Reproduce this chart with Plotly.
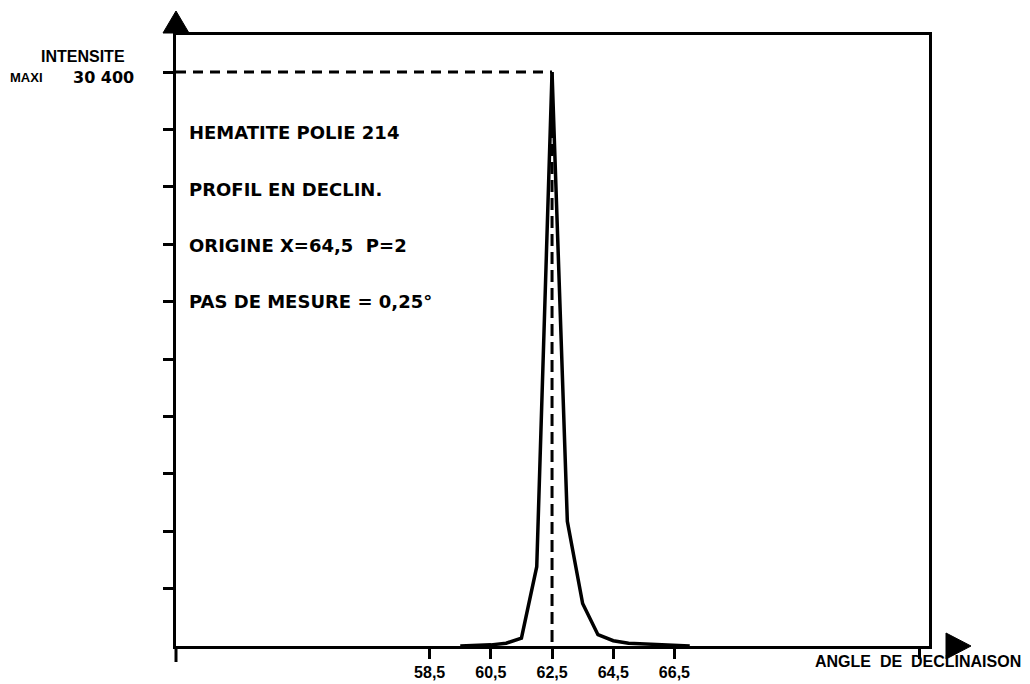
import plotly.graph_objects as go

# ---- data ----
angle = [59.5, 60.0, 60.5, 61.0, 61.5, 62.0, 62.5, 63.0, 63.5, 64.0, 64.5, 65.0, 65.5, 66.0, 66.5, 67.0]
intensity = [0, 20, 60, 150, 420, 4200, 30400, 6600, 2250, 600, 280, 150, 110, 70, 40, 0]

x_tick_vals = [58.5, 60.5, 62.5, 64.5, 66.5, 74.5]
x_tick_text = ["58,5", "60,5", "62,5", "64,5", "66,5", ""]
y_max = 30400
y_tick_vals = [3040 * k for k in range(1, 11)]
peak_angle = 62.5

info_lines = ["HEMATITE POLIE 214", "PROFIL EN DECLIN.",
              "ORIGINE X=64,5  P=2", "PAS DE MESURE = 0,25°"]

# ---- layout geometry (screen pixels; page body has an 8px margin) ----
OFF = 8
FW, FH = 1030 - OFF, 684 - OFF
L, R, T, B = 176, 929, 35, 646
W, H = R - L, B - T
X0, X1 = 50.21, 74.82
Y1 = y_max * H / (B - 72)


def px(x):
    return (x - L) / W


def py(y):
    return (B - y) / H


fig = go.Figure()
fig.add_trace(go.Scatter(x=angle, y=intensity, mode="lines",
                         line=dict(color="black", width=3.5), hoverinfo="skip",
                         showlegend=False))

shapes = [
    # dashed max line
    dict(type="line", xref="x", yref="y", x0=X0, x1=peak_angle, y0=y_max, y1=y_max,
         line=dict(color="black", width=3, dash="10px,7px")),
    dict(type="line", xref="x", yref="y", x0=peak_angle, x1=peak_angle, y0=y_max, y1=0,
         line=dict(color="black", width=3, dash="12px,6px")),
    # y axis extension below origin
    dict(type="line", xref="paper", yref="paper", x0=0, x1=0, y0=0, y1=py(B + 16),
         line=dict(color="black", width=3)),
    # arrow heads
    dict(type="path", xref="paper", yref="paper",
         path=f"M {px(L-13)},{py(33)} L {px(L+13)},{py(33)} L {px(L)},{py(11)} Z",
         fillcolor="black", line=dict(color="black", width=1)),
    dict(type="path", xref="paper", yref="paper",
         path=f"M {px(946)},{py(B-13)} L {px(946)},{py(B+13)} L {px(971)},{py(B)} Z",
         fillcolor="black", line=dict(color="black", width=1)),
]

anns = []
text_font = dict(family="DejaVu Sans", size=18, color="black", weight="bold")
for line_text, ycen in zip(info_lines, [132, 189, 245, 301]):
    anns.append(dict(text=line_text, xref="paper", yref="paper", x=px(187), y=py(ycen),
                     xanchor="left", yanchor="middle", showarrow=False, font=text_font))

anns.append(dict(text="INTENSITE", xref="paper", yref="paper", x=px(83), y=py(57),
                 xanchor="center", yanchor="middle", showarrow=False,
                 font=dict(family="Liberation Sans", size=16, color="black", weight="bold")))
anns.append(dict(text="MAXI", xref="paper", yref="paper", x=px(8), y=py(78),
                 xanchor="left", yanchor="middle", showarrow=False,
                 font=dict(family="Liberation Sans", size=13, color="black", weight="bold")))
anns.append(dict(text="30 400", xref="paper", yref="paper", x=px(136), y=py(77),
                 xanchor="right", yanchor="middle", showarrow=False,
                 font=dict(family="DejaVu Sans", size=16, color="black", weight="bold")))
anns.append(dict(text="ANGLE  DE  DECLINAISON", xref="paper", yref="paper", x=px(1023), y=py(661),
                 xanchor="right", yanchor="middle", showarrow=False,
                 font=dict(family="Liberation Sans", size=16, color="black", weight="bold")))

fig.update_layout(
    width=FW, height=FH,
    margin=dict(l=L - OFF, r=FW - (R - OFF), t=T - OFF, b=FH - (B - OFF), autoexpand=False),
    paper_bgcolor="white", plot_bgcolor="white",
    shapes=shapes, annotations=anns, showlegend=False,
    xaxis=dict(range=[X0, X1], showline=True, linecolor="black", linewidth=3, mirror=True,
               showgrid=False, zeroline=False, ticks="outside", ticklen=10, tickwidth=3,
               tickcolor="black", tickvals=x_tick_vals, ticktext=x_tick_text,
               automargin=False,
               tickfont=dict(family="Liberation Sans", size=16,
                             color="black", weight="bold")),
    yaxis=dict(range=[0, Y1], showline=True, linecolor="black", linewidth=3, mirror=True,
               showgrid=False, zeroline=False, ticks="outside", ticklen=10, tickwidth=3,
               tickcolor="black", tickvals=y_tick_vals, showticklabels=False,
               automargin=False),
)

fig.write_html("out.html")
